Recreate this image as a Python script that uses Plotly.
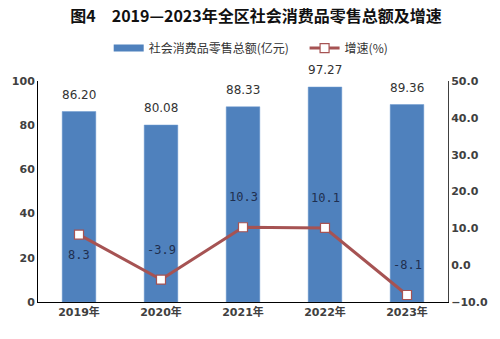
import plotly.graph_objects as go

categories = ["2019年", "2020年", "2021年", "2022年", "2023年"]
sales = [86.20, 80.08, 88.33, 97.27, 89.36]
growth = [8.3, -3.9, 10.3, 10.1, -8.1]
left_ticks = [0, 20, 40, 60, 80, 100]
right_ticks = [-10, 0, 10, 20, 30, 40, 50]

BAR_NAME = "社会消费品零售总额(亿元)"
LINE_NAME = "增速(%)"
CJK = "DejaVu Sans, Noto Sans CJK SC"
BLUE = "#4F81BD"
RED = "#A65353"
TICKFONT = dict(family=CJK, size=11, color="#404040", weight="bold")

fig = go.Figure()
fig.add_trace(go.Bar(
    x=categories, y=sales, name=BAR_NAME, showlegend=False,
    marker=dict(color=BLUE, line=dict(color="#6F9BD0", width=0.5)),
    hoverinfo="skip",
))
# legend-only entry giving the wide flat bar swatch
fig.add_trace(go.Scatter(
    x=[None], y=[None], name=BAR_NAME + "\u00a0" * 4, mode="lines",
    line=dict(color=BLUE, width=7), showlegend=True,
))
fig.add_trace(go.Scatter(
    x=categories, y=growth, name=LINE_NAME, yaxis="y2",
    mode="lines+markers",
    line=dict(color=RED, width=3),
    marker=dict(symbol="square", size=9, color="white",
                line=dict(color=RED, width=1.2)),
))

annotations = []
for c, v in zip(categories, sales):
    annotations.append(dict(x=c, y=v, xref="x", yref="y", text=f"{v:.2f}",
                            showarrow=False, yshift=17,
                            font=dict(family="DejaVu Sans", size=12, color="#333333")))
for i, (c, v) in enumerate(zip(categories, growth)):
    shift = -20 if i == 0 else 30
    annotations.append(dict(x=c, y=v, xref="x", yref="y2", text=f"{v:.1f}",
                            showarrow=False, yshift=shift,
                            font=dict(family="DejaVu Sans Mono", size=12, color="#1F2F4F")))

fig.update_layout(
    width=500, height=339,
    margin=dict(l=38, r=45, t=81, b=37),
    paper_bgcolor="white", plot_bgcolor="white",
    bargap=0.59,
    title=dict(text="<b>图4　2019—2023年全区社会消费品零售总额及增速</b>",
               x=0.512, xanchor="center", y=0.953, yanchor="middle",
               font=dict(family="Noto Sans CJK SC", size=16, color="#111111")),
    legend=dict(orientation="h", x=0.52, xanchor="center", y=1.149, yanchor="middle",
                font=dict(family="Noto Sans CJK SC", size=12, color="#333333"),
                traceorder="normal", bgcolor="rgba(0,0,0,0)"),
    xaxis=dict(showline=True, linecolor="#000000", linewidth=1, ticks="",
               tickfont=TICKFONT, showgrid=False),
    yaxis=dict(range=[0, 100], tickvals=left_ticks, showline=True, linecolor="#000000",
               linewidth=1, showgrid=False, zeroline=False, ticks="",
               tickfont=TICKFONT),
    yaxis2=dict(range=[-10, 50], tickvals=right_ticks, tickformat=".1f", overlaying="y",
                side="right", showline=True, linecolor="#404040", linewidth=1,
                showgrid=False, zeroline=False, ticks="",
                tickfont=TICKFONT),
    annotations=annotations,
    showlegend=True,
)
fig.write_html("out.html")
